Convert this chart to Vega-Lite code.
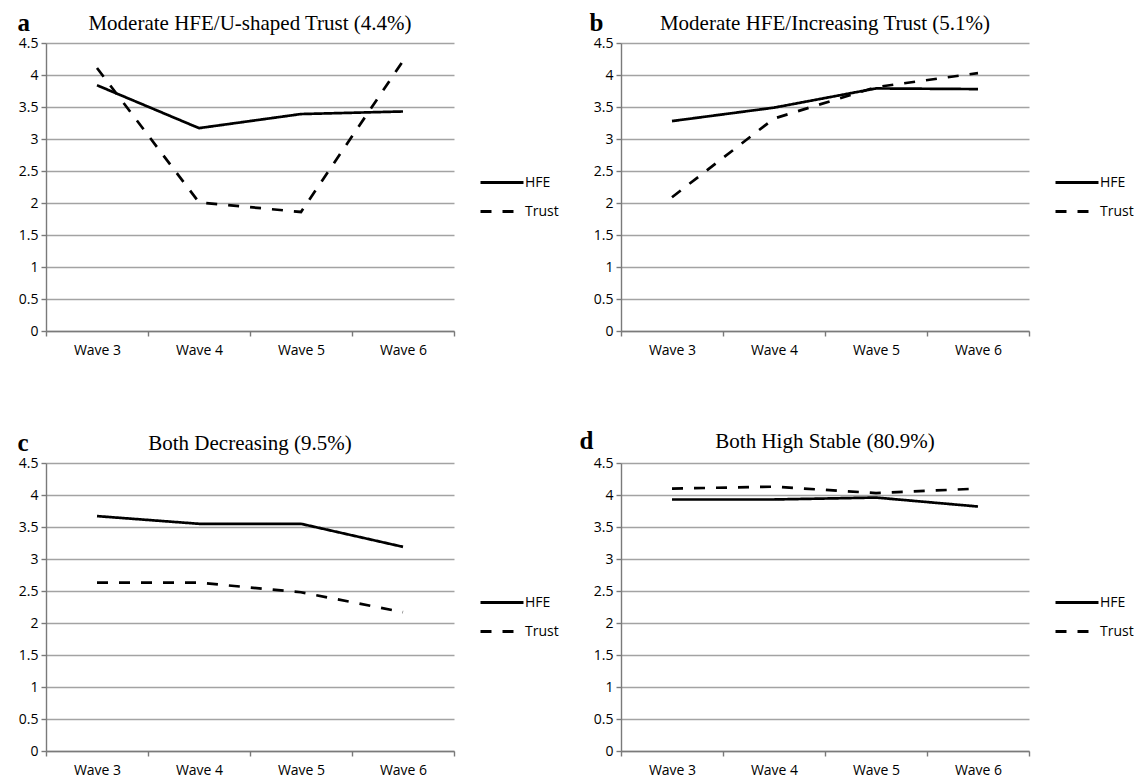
{
  "$schema": "https://vega.github.io/schema/vega-lite/v6.json",
  "padding": {"left": 17, "top": 10, "right": 0, "bottom": 0},
  "background": "white",
  "data": {"values": [
    {"panel": "a", "wave": "Wave 3", "series": "HFE", "value": 3.84},
    {"panel": "a", "wave": "Wave 4", "series": "HFE", "value": 3.17},
    {"panel": "a", "wave": "Wave 5", "series": "HFE", "value": 3.39},
    {"panel": "a", "wave": "Wave 6", "series": "HFE", "value": 3.43},
    {"panel": "a", "wave": "Wave 3", "series": "Trust", "value": 4.11},
    {"panel": "a", "wave": "Wave 4", "series": "Trust", "value": 2.01},
    {"panel": "a", "wave": "Wave 5", "series": "Trust", "value": 1.86},
    {"panel": "a", "wave": "Wave 6", "series": "Trust", "value": 4.22},
    {"panel": "b", "wave": "Wave 3", "series": "HFE", "value": 3.28},
    {"panel": "b", "wave": "Wave 4", "series": "HFE", "value": 3.49},
    {"panel": "b", "wave": "Wave 5", "series": "HFE", "value": 3.79},
    {"panel": "b", "wave": "Wave 6", "series": "HFE", "value": 3.78},
    {"panel": "b", "wave": "Wave 3", "series": "Trust", "value": 2.09},
    {"panel": "b", "wave": "Wave 4", "series": "Trust", "value": 3.32},
    {"panel": "b", "wave": "Wave 5", "series": "Trust", "value": 3.81},
    {"panel": "b", "wave": "Wave 6", "series": "Trust", "value": 4.03},
    {"panel": "c", "wave": "Wave 3", "series": "HFE", "value": 3.67},
    {"panel": "c", "wave": "Wave 4", "series": "HFE", "value": 3.55},
    {"panel": "c", "wave": "Wave 5", "series": "HFE", "value": 3.55},
    {"panel": "c", "wave": "Wave 6", "series": "HFE", "value": 3.19},
    {"panel": "c", "wave": "Wave 3", "series": "Trust", "value": 2.63},
    {"panel": "c", "wave": "Wave 4", "series": "Trust", "value": 2.63},
    {"panel": "c", "wave": "Wave 5", "series": "Trust", "value": 2.48},
    {"panel": "c", "wave": "Wave 6", "series": "Trust", "value": 2.17},
    {"panel": "d", "wave": "Wave 3", "series": "HFE", "value": 3.93},
    {"panel": "d", "wave": "Wave 4", "series": "HFE", "value": 3.93},
    {"panel": "d", "wave": "Wave 5", "series": "HFE", "value": 3.96},
    {"panel": "d", "wave": "Wave 6", "series": "HFE", "value": 3.82},
    {"panel": "d", "wave": "Wave 3", "series": "Trust", "value": 4.10},
    {"panel": "d", "wave": "Wave 4", "series": "Trust", "value": 4.13},
    {"panel": "d", "wave": "Wave 5", "series": "Trust", "value": 4.03},
    {"panel": "d", "wave": "Wave 6", "series": "Trust", "value": 4.10}
  ]},
  "columns": 2,
  "bounds": "flush",
  "spacing": {"column": 167, "row": 132},
  "resolve": {"scale": {"strokeDash": "independent"}, "legend": {"strokeDash": "independent"}},
  "concat": [
    {
      "width": 408, "height": 288,
      "title": {"text": "Moderate HFE/U-shaped Trust (4.4%)"},
      "transform": [{"filter": "datum.panel === 'a'"}],
      "mark": {"type": "line", "color": "black", "strokeWidth": 2.7},
      "encoding": {
        "x": {"field": "wave", "type": "nominal", "bandPosition": 0.5, "scale": {"type": "band", "paddingInner": 0, "paddingOuter": 0}, "axis": {"title": null}},
        "y": {"field": "value", "type": "quantitative", "scale": {"domain": [0, 4.5]}, "axis": {"title": "a", "titleX": -29, "titleY": -13}},
        "strokeDash": {"field": "series", "type": "nominal", "scale": {"domain": ["HFE", "Trust"], "range": [[1, 0], [11, 11]]}, "legend": {"title": null}}
      }
    },
    {
      "width": 408, "height": 288,
      "title": {"text": "Moderate HFE/Increasing Trust (5.1%)"},
      "transform": [{"filter": "datum.panel === 'b'"}],
      "mark": {"type": "line", "color": "black", "strokeWidth": 2.7},
      "encoding": {
        "x": {"field": "wave", "type": "nominal", "bandPosition": 0.5, "scale": {"type": "band", "paddingInner": 0, "paddingOuter": 0}, "axis": {"title": null}},
        "y": {"field": "value", "type": "quantitative", "scale": {"domain": [0, 4.5]}, "axis": {"title": "b", "titleX": -32, "titleY": -13}},
        "strokeDash": {"field": "series", "type": "nominal", "scale": {"domain": ["HFE", "Trust"], "range": [[1, 0], [11, 11]]}, "legend": {"title": null}}
      }
    },
    {
      "width": 408, "height": 288,
      "title": {"text": "Both Decreasing (9.5%)"},
      "transform": [{"filter": "datum.panel === 'c'"}],
      "mark": {"type": "line", "color": "black", "strokeWidth": 2.7},
      "encoding": {
        "x": {"field": "wave", "type": "nominal", "bandPosition": 0.5, "scale": {"type": "band", "paddingInner": 0, "paddingOuter": 0}, "axis": {"title": null}},
        "y": {"field": "value", "type": "quantitative", "scale": {"domain": [0, 4.5]}, "axis": {"title": "c", "titleX": -29, "titleY": -13}},
        "strokeDash": {"field": "series", "type": "nominal", "scale": {"domain": ["HFE", "Trust"], "range": [[1, 0], [11, 11]]}, "legend": {"title": null}}
      }
    },
    {
      "width": 408, "height": 288,
      "title": {"text": "Both High Stable (80.9%)"},
      "transform": [{"filter": "datum.panel === 'd'"}],
      "mark": {"type": "line", "color": "black", "strokeWidth": 2.7},
      "encoding": {
        "x": {"field": "wave", "type": "nominal", "bandPosition": 0.5, "scale": {"type": "band", "paddingInner": 0, "paddingOuter": 0}, "axis": {"title": null}},
        "y": {"field": "value", "type": "quantitative", "scale": {"domain": [0, 4.5]}, "axis": {"title": "d", "titleX": -42, "titleY": -15}},
        "strokeDash": {"field": "series", "type": "nominal", "scale": {"domain": ["HFE", "Trust"], "range": [[1, 0], [11, 11]]}, "legend": {"title": null}}
      }
    }
  ],
  "config": {
    "view": {"stroke": null},
    "title": {"font": "Liberation Serif", "fontSize": 21, "fontWeight": "normal", "color": "black", "anchor": "middle", "frame": "group", "baseline": "alphabetic", "offset": 0, "dy": 28},
    "axis": {
      "labelFont": "Open Sans", "labelFontSize": 14, "labelColor": "black",
      "domainColor": "#7a7a7a", "domainWidth": 1.4, "tickColor": "#7a7a7a", "tickWidth": 1.4, "tickSize": 5,
      "titleFont": "Liberation Serif", "titleFontSize": 25, "titleFontWeight": "bold", "titleColor": "black",
      "titleAngle": 0, "titleAlign": "left", "titleBaseline": "alphabetic"
    },
    "axisX": {"grid": false, "tickBand": "extent", "labelAngle": 0, "labelPadding": 7},
    "axisY": {"grid": true, "gridColor": "#a3a3a3", "gridWidth": 1.4, "values": [0, 0.5, 1, 1.5, 2, 2.5, 3, 3.5, 4, 4.5], "format": ".1~f", "labelPadding": 3},
    "legend": {
      "orient": "none", "legendX": 433, "legendY": 131,
      "symbolType": "stroke", "symbolSize": 1849, "symbolStrokeWidth": 3, "symbolStrokeColor": "black",
      "labelFont": "Open Sans", "labelFontSize": 14, "labelColor": "black", "labelOffset": 0,
      "clipHeight": 17, "rowPadding": 12
    }
  }
}
